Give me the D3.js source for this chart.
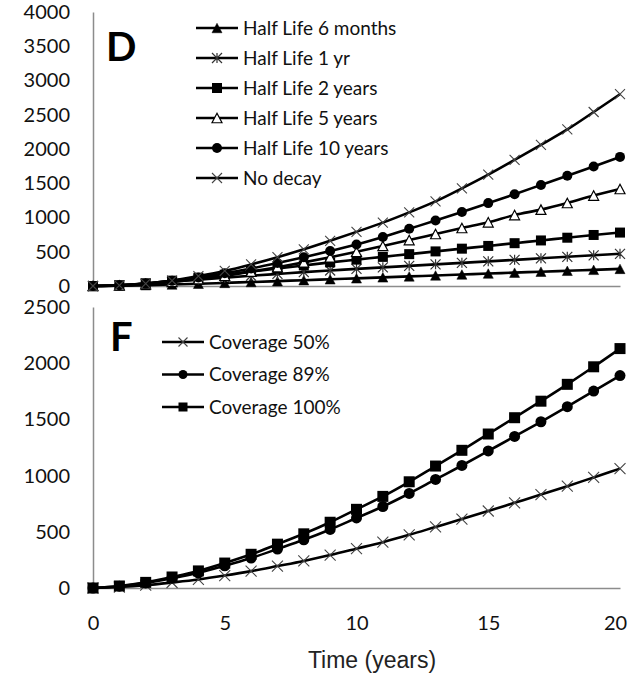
<!DOCTYPE html>
<html>
<head>
<meta charset="utf-8">
<script src="https://cdn.jsdelivr.net/npm/d3@7"></script>
<style>
  body { margin: 0; background: #fff; }
  text { font-family: Lato, "Noto Sans", sans-serif; }
</style>
</head>
<body>
<div id="chart"></div>
<script>
// years on the x axis
const years = [0, 1, 2, 3, 4, 5, 6, 7, 8, 9, 10, 11, 12, 13, 14, 15, 16, 17, 18, 19, 20];

// panel D series
const halfLife6m = [0, 4, 12, 22, 33, 45, 58, 71, 85, 98, 112, 126, 140, 154, 168, 182, 195, 209, 222, 236, 250];
const halfLife1yr = [0, 10, 33, 62, 92, 122, 150, 176, 202, 226, 250, 272, 294, 316, 338, 360, 382, 404, 426, 448, 470];
const halfLife2yr = [0, 12, 40, 78, 120, 165, 210, 255, 300, 345, 385, 425, 465, 505, 545, 585, 625, 665, 705, 745, 780];
const halfLife5yr = [0, 8, 28, 60, 100, 150, 210, 275, 345, 420, 500, 585, 671, 759, 847, 930, 1036, 1115, 1212, 1320, 1416];
const halfLife10yr = [0, 10, 35, 75, 125, 185, 255, 335, 420, 510, 605, 715, 835, 955, 1080, 1210, 1340, 1475, 1610, 1745, 1885];
const noDecay = [0, 8, 35, 80, 145, 220, 315, 420, 535, 660, 790, 925, 1075, 1235, 1425, 1625, 1840, 2060, 2285, 2540, 2800];

// panel F series
const coverage50 = [0, 9, 25, 49, 76, 111, 150, 195, 241, 293, 350, 408, 473, 543, 613, 685, 758, 831, 906, 984, 1062];
const coverage89 = [0, 16, 45, 87, 135, 198, 267, 347, 429, 521, 623, 725, 841, 966, 1090, 1219, 1348, 1479, 1613, 1752, 1890];
const coverage100 = [0, 18, 50, 98, 152, 222, 300, 390, 482, 585, 700, 815, 945, 1085, 1225, 1370, 1515, 1662, 1812, 1968, 2130];

const topTicks = [0, 500, 1000, 1500, 2000, 2500, 3000, 3500, 4000];
const bottomTicks = [0, 500, 1000, 1500, 2000, 2500];
const xTicks = [0, 5, 10, 15, 20];

const topLabels = ["Half Life 6 months", "Half Life 1 yr", "Half Life 2 years", "Half Life 5 years", "Half Life 10 years", "No decay"];
const bottomLabels = ["Coverage 50%", "Coverage 89%", "Coverage 100%"];

const topSeries = [
  { name: topLabels[0], values: halfLife6m, marker: "triangle" },
  { name: topLabels[1], values: halfLife1yr, marker: "star" },
  { name: topLabels[2], values: halfLife2yr, marker: "square" },
  { name: topLabels[3], values: halfLife5yr, marker: "openTriangle" },
  { name: topLabels[4], values: halfLife10yr, marker: "circle" },
  { name: topLabels[5], values: noDecay, marker: "cross" },
];
const bottomSeries = [
  { name: bottomLabels[0], values: coverage50, marker: "cross" },
  { name: bottomLabels[1], values: coverage89, marker: "circle" },
  { name: bottomLabels[2], values: coverage100, marker: "square" },
];

const width = 628, height = 674;

const svg = d3.select("#chart")
  .append("svg")
  .attr("width", width)
  .attr("height", height);

const x = d3.scaleLinear().domain([0, 20]).range([93, 620]);
const yTop = d3.scaleLinear().domain([0, 4000]).range([286, 12]);
const yBot = d3.scaleLinear().domain([0, 2500]).range([588, 307]);

function drawMarker(g, type, cx, cy, s) {
  if (type == "square") {
    g.append("rect").attr("x", cx - s / 2).attr("y", cy - s / 2)
      .attr("width", s).attr("height", s).attr("fill", "#000");
  } else if (type == "circle") {
    g.append("circle").attr("cx", cx).attr("cy", cy).attr("r", s / 2).attr("fill", "#000");
  } else if (type == "triangle" || type == "openTriangle") {
    const h = s * 0.95;
    g.append("path")
      .attr("d", `M${cx},${cy - h / 2}L${cx + s / 2},${cy + h / 2}L${cx - s / 2},${cy + h / 2}Z`)
      .attr("fill", type == "triangle" ? "#000" : "#fff")
      .attr("stroke", "#000").attr("stroke-width", type == "triangle" ? 0.5 : 1.2);
  } else if (type == "cross") {
    const r = s / 2;
    g.append("path")
      .attr("d", `M${cx - r},${cy - r}L${cx + r},${cy + r}M${cx - r},${cy + r}L${cx + r},${cy - r}`)
      .attr("stroke", "#444").attr("stroke-width", 1.1).attr("fill", "none");
  } else if (type == "star") {
    const r = s / 2;
    g.append("path")
      .attr("d", `M${cx - r},${cy - r}L${cx + r},${cy + r}M${cx - r},${cy + r}L${cx + r},${cy - r}M${cx},${cy - r}L${cx},${cy + r}`)
      .attr("stroke", "#333").attr("stroke-width", 1.2).attr("fill", "none");
  }
}

function drawPanel(series, y, ticks, ms) {
  const g = svg.append("g");

  // y axis
  g.append("g")
    .attr("transform", `translate(${x(0)},0)`)
    .call(d3.axisLeft(y).tickValues(ticks).tickFormat(d3.format("d"))
      .tickSize(0).tickSizeOuter(0).tickPadding(23))
    .call((a) => a.select(".domain").attr("stroke", "#8c8c8c").attr("stroke-width", 1.5))
    .call((a) => a.selectAll("text").attr("font-size", 20).attr("fill", "#111")
      .style("font-family", "Lato, sans-serif"));

  // x axis line
  g.append("g")
    .attr("transform", `translate(0,${y(0)})`)
    .call(d3.axisBottom(x).tickValues([]).tickSizeOuter(0))
    .call((a) => a.select(".domain").attr("stroke", "#8c8c8c").attr("stroke-width", 1.5));

  const line = d3.line()
    .x((d, i) => x(years[i]))
    .y((d) => y(d))
    .curve(d3.curveMonotoneX);

  series.forEach(function (s) {
    g.append("path")
      .datum(s.values)
      .attr("d", line)
      .attr("fill", "none")
      .attr("stroke", "#000")
      .attr("stroke-width", 2.6);
    const mg = g.append("g");
    s.values.forEach(function (v, i) {
      drawMarker(mg, s.marker, x(years[i]), y(v), ms);
    });
  });
  return g;
}

drawPanel(topSeries, yTop, topTicks, 10);
drawPanel(bottomSeries, yBot, bottomTicks, 11);

// x tick labels under the bottom panel
svg.append("g")
  .attr("transform", `translate(0,${yBot(0)})`)
  .call(d3.axisBottom(x).tickValues(xTicks).tickSize(0).tickPadding(28))
  .call((a) => a.select(".domain").remove())
  .call((a) => a.selectAll("text").attr("font-size", 20).attr("fill", "#111")
    .style("font-family", "Lato, sans-serif")
    .attr("dx", (d) => (d == 20 ? -5 : 0)));

svg.append("text")
  .attr("x", 372)
  .attr("y", 668)
  .attr("text-anchor", "middle")
  .style("font-family", "'Liberation Sans', Arial, sans-serif")
  .attr("font-size", 23)
  .attr("fill", "#222")
  .text("Time (years)");

// panel letters
svg.append("text").attr("x", 106).attr("y", 61)
  .attr("font-size", 40).attr("font-weight", "bold").text("D");
svg.append("text").attr("x", 110).attr("y", 351)
  .attr("font-size", 40).attr("font-weight", "bold").text("F");

// legends
function legend(series, lx, ly, step, ms) {
  const lg = svg.append("g");
  series.forEach(function (s, i) {
    const yy = ly + i * step;
    lg.append("line").attr("x1", lx).attr("x2", lx + 42).attr("y1", yy).attr("y2", yy)
      .attr("stroke", "#000").attr("stroke-width", 2.6);
    drawMarker(lg, s.marker, lx + 21, yy, ms);
    lg.append("text").attr("x", lx + 47).attr("y", yy).attr("dy", "0.35em")
      .attr("font-size", 19).attr("fill", "#111").text(s.name);
  });
}
legend(topSeries, 196, 28, 30, 10);
legend(bottomSeries, 162, 342, 32.5, 9);
</script>
</body>
</html>
